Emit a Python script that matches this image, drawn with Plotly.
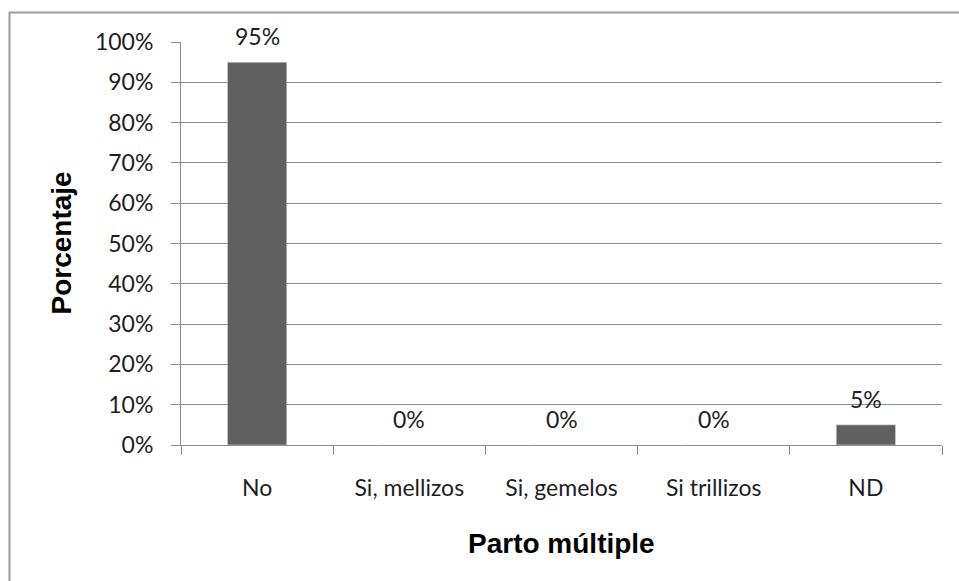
import plotly.graph_objects as go

categories = ["No", "Si, mellizos", "Si, gemelos", "Si trillizos", "ND"]
values = [0.95, 0.0, 0.0, 0.0, 0.05]
value_labels = ["95%", "0%", "0%", "0%", "5%"]
y_ticks = [0, 0.1, 0.2, 0.3, 0.4, 0.5, 0.6, 0.7, 0.8, 0.9, 1.0]
y_tick_labels = ["0%", "10%", "20%", "30%", "40%", "50%", "60%", "70%", "80%", "90%", "100%"]
x_title = "Parto múltiple"
y_title = "Porcentaje"

W, H = 959, 581
L, R, T, B = 181, 17, 42, 136
pw, ph = W - L - R, H - T - B

def px_x(x):
    return (x - L) / pw

def px_y(y):
    return (H - B - y) / ph

tick_font = dict(family="Lato", size=23, color="#1e1e1e")
grid = "#8c8c8c"

fig = go.Figure(go.Bar(
    x=categories, y=values, marker_color="#606060", width=0.39,
    hoverinfo="skip",
))

for c, v, t in zip(categories, values, value_labels):
    fig.add_annotation(x=c, y=v, text=t, showarrow=False, xanchor="center",
                       yanchor="middle", yshift=26, font=tick_font)

fig.add_annotation(xref="paper", yref="paper", x=0.5, y=px_y(543), text="<b>%s</b>" % x_title,
                   showarrow=False, xanchor="center", yanchor="middle",
                   font=dict(family="Liberation Sans", size=28, color="#000"))
fig.add_annotation(xref="paper", yref="paper", x=px_x(61), y=0.5, text="<b>%s</b>" % y_title,
                   showarrow=False, xanchor="center", yanchor="middle", textangle=-90,
                   font=dict(family="Liberation Sans", size=28, color="#000"))

fig.add_shape(type="rect", xref="paper", yref="paper",
              x0=px_x(9.5), x1=px_x(975), y0=px_y(12.5), y1=px_y(600),
              line=dict(color="#9a9a9a", width=2), fillcolor="rgba(0,0,0,0)", layer="below")

fig.update_layout(
    width=W, height=H,
    margin=dict(l=L, r=R, t=T, b=B),
    paper_bgcolor="white", plot_bgcolor="white",
    showlegend=False, bargap=0.61,
    xaxis=dict(
        type="category", tickson="boundaries", ticks="outside", ticklen=9,
        tickcolor=grid, tickwidth=1, showline=True, linecolor=grid, linewidth=1,
        showgrid=False, tickfont=tick_font, ticklabelstandoff=22,
    ),
    yaxis=dict(
        range=[0, 1], tickvals=y_ticks, ticktext=y_tick_labels,
        ticks="outside", ticklen=9, tickcolor=grid, tickwidth=1,
        showline=True, linecolor=grid, linewidth=1,
        showgrid=True, gridcolor=grid, gridwidth=1, zeroline=False,
        tickfont=tick_font, ticklabelstandoff=13,
    ),
)

fig.write_html("out.html")
